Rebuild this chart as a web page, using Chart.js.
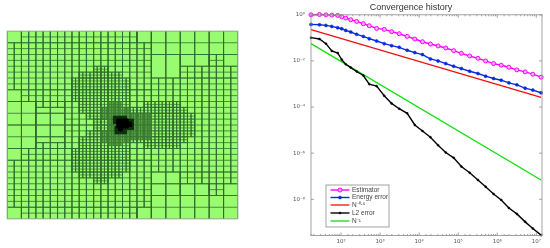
<!DOCTYPE html>
<html>
<head>
<meta charset="utf-8">
<script src="https://cdn.jsdelivr.net/npm/chart.js@4"></script>
<style>
  html, body { margin: 0; padding: 0; background: #fff; }
  canvas { position: absolute; top: 0; }
  #meshChart { left: 0; }
  #convChart { left: 280px; }
</style>
</head>
<body>
<canvas id="meshChart" width="275" height="248"></canvas>
<canvas id="convChart" width="270" height="248"></canvas>
<script>
// Mesh blocks: [x0, y0, x1, y1, columns, rows], in units of the 32 x 32 domain
const coarseBlocks = [
  [0,0,2,2,1,1],[2,0,18,2,16,2],[18,0,20,2,1,1],
  [0,2,20,10,20,8],
  [0,10,2,12,1,1],[2,10,20,12,18,2],
  [0,12,4,16,2,2],[4,12,8,13,4,1],[4,13,8,14,2,1],[4,14,8,16,2,1],[8,12,20,16,12,4],
  [0,16,4,20,2,2],[4,16,8,18,2,1],[4,18,8,19,2,1],[4,19,8,20,4,1],[8,16,20,20,12,4],
  [0,20,2,22,1,1],[2,20,20,22,18,2],
  [0,22,20,30,20,8],
  [0,30,2,32,1,1],[2,30,18,32,16,2],[18,30,20,32,1,1],
  [20,0,32,4,6,2],[20,4,24,8,2,1],[24,4,28,6,2,1],[28,4,30,6,2,2],[30,4,32,6,1,1],[24,6,32,8,8,2],
  [20,8,32,24,12,16],
  [20,24,24,26,2,1],[20,26,24,28,2,1],[24,24,32,26,8,2],[24,26,28,28,2,1],[28,26,30,28,2,2],[30,26,32,28,1,1],
  [20,28,32,32,6,2]
];
const halfBlocks = [
  [12,6,14,7,4,2],[10,7,16,8,12,2],[9,8,17,12,16,8],[10,12,17,14,14,4],[11,14,17,15,12,2],[12,15,17,17,10,4],
  [11,17,17,18,12,2],[10,18,17,20,14,4],[9,20,17,24,16,8],[10,24,16,25,12,2],[12,25,14,26,4,2],
  [19,12,24,13,10,2],[17,13,25,14,16,2],[17,14,26,18,18,8],[17,18,25,19,16,2],[19,19,24,20,10,2]
];
const quarterBlocks = [
  [14,12,16,13,8,4],[13,13,17,15,16,8],[14,15,17,17,12,8],[13,17,17,19,16,8],[14,19,16,19.5,8,2],
  [17,14,20,18.5,12,18]
];
const coreBlocks = [
  [14.75,14.5,16.5,15.75,14,10],[15,16.25,16.5,17.5,12,10],[16,15,17.5,16.75,12,14]
];
const blackBlocks = [
  [15.25,15,16.75,16.5,24,24],[15.5,16.5,16,17,8,8],[16.75,15.5,17.25,16.25,8,12]
];

// Convergence data
const dofs = [17,28,41,58,82,104,132,177,251,372,528,815,1276,1968,3083,4943,7745,12160,19450,30550,47970,76740,120500,196800,320600,503500,805400,1265000,1986000,3177000,5188000,8147000,13270000];
const estimator = [1,1.03,1,.967,.936,.82,.72,.61,.515,.41,.335,.257,.233,.185,.151,.116,.089,.068,.054,.0444,.0364,.0279,.0214,.0164,.013,.01,.00767,.0065,.00533,.00409,.00335,.00266,.00197];
const energyError = [.383,.37,.347,.313,.275,.249,.211,.179,.142,.116,.092,.073,.056,.0459,.0389,.0289,.0229,.0188,.0122,.01,.00767,.00589,.00467,.00358,.00284,.00218,.00173,.00146,.00112,.00092,.00066,.000542,.000416];
const l2Error = [.102,.089,.056,.027,.0221,.0114,.00718,.00515,.00347,.00233,.000984,.000805,.000308,.000144,.0000847,.0000533,.0000167,9.2e-6,4.9e-6,2.2e-6,1.07e-6,6.3e-7,2.65e-7,1.42e-7,6.84e-8,3.52e-8,1.7e-8,9.4e-9,4.2e-9,2.33e-9,1.05e-9,5.42e-10,2.79e-10];
const refDofs = [17,13270000];
const refHalf = [.225,.00026];
const refOne = [.056,6.84e-8];
const yTickValues = [1,1e-2,1e-4,1e-6,1e-8];
const xTickLabels = {2:'10²',3:'10³',4:'10⁴',5:'10⁵',6:'10⁶',7:'10⁷'};
const yTickLabels = {0:'10⁰','-2':'10⁻²','-4':'10⁻⁴','-6':'10⁻⁶','-8':'10⁻⁸'};

// Turn blocks into one broken polyline (null points lift the pen)
function blocksToSegments(blocks) {
  const pts = [];
  blocks.forEach(([x0, y0, x1, y1, nx, ny]) => {
    for (let i = 0; i <= nx; i++) {
      const x = x0 + (x1 - x0) * i / nx;
      pts.push({x: x, y: y0}, {x: x, y: y1}, {x: null, y: null});
    }
    for (let j = 0; j <= ny; j++) {
      const y = y0 + (y1 - y0) * j / ny;
      pts.push({x: x0, y: y}, {x: x1, y: y}, {x: null, y: null});
    }
  });
  return pts;
}

function meshDataset(blocks, color, width) {
  return {
    data: blocksToSegments(blocks),
    showLine: true,
    spanGaps: false,
    borderColor: color,
    borderWidth: width,
    pointRadius: 0,
    tension: 0
  };
}

const meshBackground = {
  id: 'meshBackground',
  beforeDatasetsDraw(chart) {
    const a = chart.chartArea, ctx = chart.ctx;
    ctx.save();
    ctx.fillStyle = '#99fb70';
    ctx.fillRect(a.left, a.top, a.width, a.height);
    ctx.restore();
  },
  afterDatasetsDraw(chart) {
    const a = chart.chartArea, ctx = chart.ctx;
    ctx.save();
    ctx.strokeStyle = '#b9c4b4';
    ctx.lineWidth = 1;
    ctx.strokeRect(a.left, a.top, a.width, a.height);
    ctx.restore();
  }
};

// Chart.js paints the first dataset last, so the finest level comes first
new Chart(document.getElementById('meshChart'), {
  type: 'scatter',
  data: {
    datasets: [
      meshDataset(blackBlocks, '#000000', 1),
      meshDataset(coreBlocks, '#0e300e', 1),
      meshDataset(quarterBlocks, '#3f7f35', 0.55),
      meshDataset(halfBlocks, '#2f6a2c', 0.65),
      meshDataset(coarseBlocks, '#2f6a2c', 0.75)
    ]
  },
  options: {
    responsive: false,
    animation: false,
    layout: { padding: { left: 7, top: 31, right: 37, bottom: 29 } },
    plugins: { legend: { display: false }, tooltip: { enabled: false } },
    scales: {
      x: { type: 'linear', min: 0, max: 32, display: false },
      y: { type: 'linear', min: 0, max: 32, reverse: true, display: false }
    }
  },
  plugins: [meshBackground]
});

// Matlab style frame: inward ticks on all four sides, plus the legend box
const matlabFrame = {
  id: 'matlabFrame',
  afterDraw(chart) {
    const ctx = chart.ctx, a = chart.chartArea;
    ctx.save();
    ctx.strokeStyle = '#8c8c8c';
    ctx.lineWidth = 0.8;
    ctx.strokeRect(a.left, a.top, a.width, a.height);
    ctx.beginPath();
    chart.scales.x.ticks.forEach(t => {
      const px = chart.scales.x.getPixelForValue(t.value);
      const len = Number.isInteger(Math.log10(t.value)) ? 3 : 1.5;
      ctx.moveTo(px, a.bottom); ctx.lineTo(px, a.bottom - len);
      ctx.moveTo(px, a.top); ctx.lineTo(px, a.top + len);
    });
    yTickValues.forEach(v => {
      const py = chart.scales.y.getPixelForValue(v);
      ctx.moveTo(a.left, py); ctx.lineTo(a.left + 3, py);
      ctx.moveTo(a.right, py); ctx.lineTo(a.right - 3, py);
    });
    ctx.stroke();

    // legend
    const bx = 46, by = 185, bw = 63, bh = 42;
    ctx.fillStyle = '#fff';
    ctx.fillRect(bx, by, bw, bh);
    ctx.strokeStyle = '#8c8c8c';
    ctx.strokeRect(bx, by, bw, bh);
    const rows = [5, 12.5, 20, 28, 36];
    chart.data.datasets.forEach((d, i) => {
      const ly = by + rows[i];
      ctx.strokeStyle = d.borderColor;
      ctx.lineWidth = d.borderWidth;
      ctx.beginPath();
      ctx.moveTo(bx + 4.5, ly); ctx.lineTo(bx + 23.5, ly);
      ctx.stroke();
      if (d.pointRadius > 0) {
        ctx.beginPath();
        ctx.fillStyle = d.pointBackgroundColor;
        ctx.lineWidth = d.pointBorderWidth;
        ctx.arc(bx + 14, ly, d.pointRadius, 0, Math.PI * 2);
        ctx.fill();
        ctx.stroke();
      }
      ctx.fillStyle = '#444';
      ctx.font = '6.5px "Liberation Sans"';
      ctx.textBaseline = 'middle';
      ctx.fillText(d.label, bx + 26, ly);
    });
    ctx.restore();
  }
};

function curve(label, xs, ys, color, width, radius, fill, pw) {
  return {
    label: label,
    data: xs.map((x, i) => ({x: x, y: ys[i]})),
    showLine: true,
    clip: false,
    borderColor: color,
    borderWidth: width,
    pointRadius: radius,
    pointBackgroundColor: fill,
    pointBorderColor: color,
    pointBorderWidth: pw,
    tension: 0
  };
}

new Chart(document.getElementById('convChart'), {
  type: 'scatter',
  data: {
    datasets: [
      curve('Estimator', dofs, estimator, '#ff00ff', 1.4, 2, '#ffb0ff', 1),
      curve('Energy error', dofs, energyError, '#0a2ae0', 1.4, 1.5, '#0a2ae0', 0.6),
      curve('N⁻⁰·⁵', refDofs, refHalf, '#f01010', 1.3, 0, '#f01010', 0),
      curve('L2 error', dofs, l2Error, '#000000', 1.4, 1, '#000000', 0.5),
      curve('N⁻¹', refDofs, refOne, '#10e010', 1.3, 0, '#10e010', 0)
    ]
  },
  options: {
    responsive: false,
    animation: false,
    layout: { padding: { left: 0, top: 0, right: 8, bottom: 0 } },
    plugins: {
      legend: { display: false },
      tooltip: { enabled: false },
      title: {
        display: true,
        text: 'Convergence history',
        color: '#333',
        font: { family: '"Liberation Sans"', size: 9, weight: 'normal' },
        padding: { top: 2, bottom: 2 }
      }
    },
    scales: {
      x: {
        type: 'logarithmic',
        min: 17,
        max: 14000000,
        grid: { display: false, tickLength: 2 },
        border: { display: false },
        afterFit(scale) { scale.height = 12.5; },
        ticks: {
          autoSkip: false,
          maxRotation: 0,
          padding: 1,
          color: '#555',
          font: { family: '"DejaVu Sans"', size: 5.5 },
          callback(v) {
            const e = Math.log10(v);
            return Number.isInteger(e) ? (xTickLabels[e] || '') : '';
          }
        }
      },
      y: {
        type: 'logarithmic',
        min: Math.pow(10, -9.57),
        max: 1,
        grid: { display: false, tickLength: 4 },
        border: { display: false },
        afterFit(scale) { scale.width = 31; },
        afterBuildTicks(scale) { scale.ticks = yTickValues.map(v => ({value: v})); },
        ticks: {
          padding: 2,
          color: '#555',
          font: { family: '"DejaVu Sans"', size: 5.5 },
          callback(v) { return yTickLabels[Math.round(Math.log10(v))] || ''; }
        }
      }
    }
  },
  plugins: [matlabFrame]
});
</script>
</body>
</html>
